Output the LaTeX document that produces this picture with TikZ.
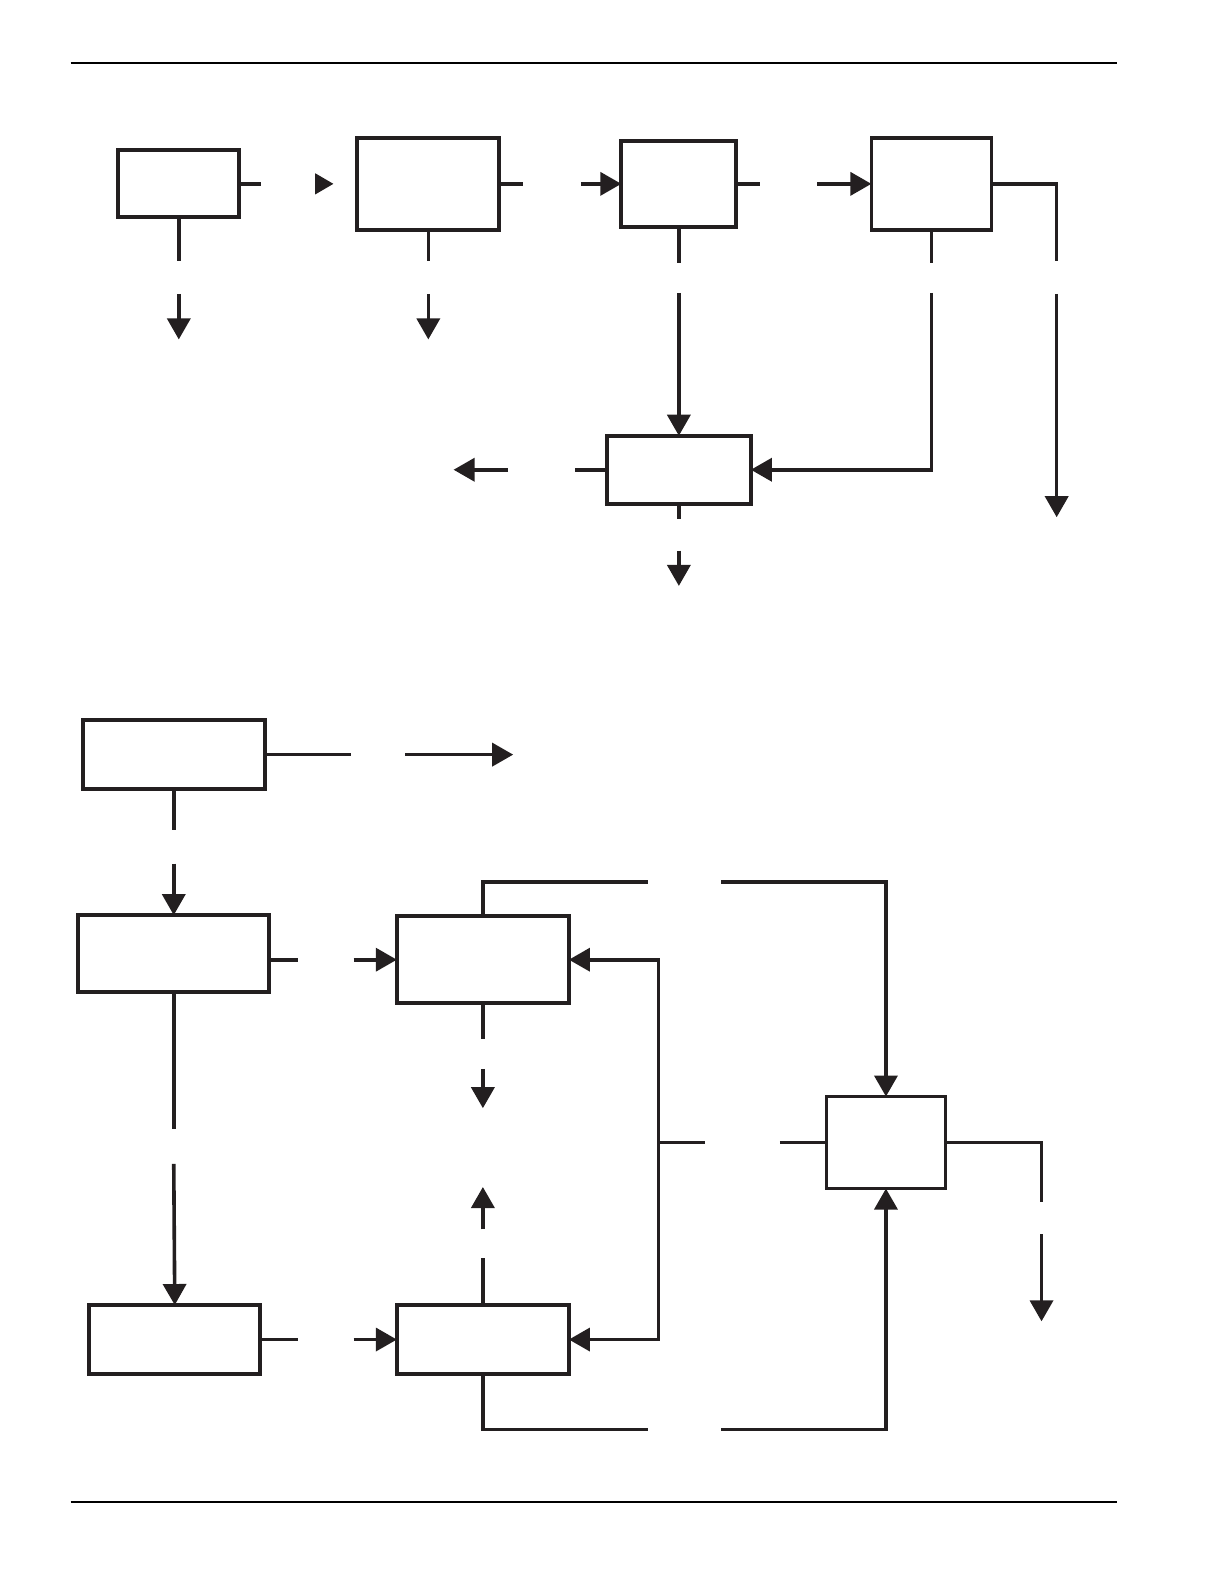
\documentclass[tikz,border=0pt]{standalone}
\usetikzlibrary{arrows.meta,calc}
\definecolor{ink}{RGB}{35,31,32}
\begin{document}
\begin{tikzpicture}[x=1.0099pt,y=-1.0099pt,
  box/.style={draw=ink,line width=3.8pt,rectangle,outer sep=0pt,inner sep=0pt,fill=white},
  conn/.style={draw=ink,line width=3.6pt},
  arr/.style={conn,-{Triangle[length=21pt,width=23pt]}},
  rule/.style={draw=black,line width=2.2pt}]
\useasboundingbox (0,0) rectangle (1212,1568);
% rules
\coordinate (r1a) at (70,62); \coordinate (r1b) at (1106,62);
\coordinate (r2a) at (70,1487); \coordinate (r2b) at (1106,1487);
\draw[rule] (r1a) -- (r1b);
\draw[rule] (r2a) -- (r2b);
% ---------- upper diagram ----------
\node[box,minimum width=121pt,minimum height=67pt] (A1) at (177,182) {};
\node[box,minimum width=142pt,minimum height=92pt] (A2) at (424,182) {};
\node[box,minimum width=115pt,minimum height=86pt] (A3) at (672,182) {};
\node[box,minimum width=120pt,minimum height=92pt] (A4) at (922,182) {};
\node[box,minimum width=144pt,minimum height=68pt] (B) at (672,465) {};
% A1
\coordinate (a1r) at (258,182);
\coordinate (t12s) at (312,182); \coordinate (t12e) at (330,182);
\draw[conn] (A1.east) -- (a1r);
\fill[ink] ($(t12s)+(0,-10.5)$) -- (t12e) -- ($(t12s)+(0,10.5)$) -- cycle;
\coordinate (a1b) at (177,258); \coordinate (a1d) at (177,291); \coordinate (a1t) at (177,336);
\draw[conn] (A1.south) -- (a1b);
\draw[arr] (a1d) -- (a1t);
% A2
\coordinate (a2r) at (518,182); \coordinate (a23) at (575,182);
\draw[conn] (A2.east) -- (a2r);
\draw[arr] (a23) -- (A3.west);
\coordinate (a2b) at (424,258); \coordinate (a2d) at (424,291); \coordinate (a2t) at (424,336);
\draw[conn] (A2.south) -- (a2b);
\draw[arr] (a2d) -- (a2t);
% A3
\coordinate (a3r) at (752,182); \coordinate (a34) at (809,182);
\draw[conn] (A3.east) -- (a3r);
\draw[arr] (a34) -- (A4.west);
\coordinate (a3b) at (672,260); \coordinate (a3d) at (672,290);
\draw[conn] (A3.south) -- (a3b);
\draw[arr] (a3d) -- (B.north);
% A4
\coordinate (a4c) at (1046,182); \coordinate (a4g) at (1046,258);
\coordinate (a4d) at (1046,291); \coordinate (a4t) at (1046,512);
\draw[conn] (A4.east) -- (a4c) -- (a4g);
\draw[arr] (a4d) -- (a4t);
\coordinate (a4b) at (922,260); \coordinate (a4d2) at (922,290); \coordinate (a4k) at (922,465);
\draw[conn] (A4.south) -- (a4b);
\draw[arr] (a4d2) -- (a4k) -- (B.east);
% B
\coordinate (bl) at (569,465); \coordinate (bla) at (503,465); \coordinate (blt) at (449,465);
\draw[conn] (B.west) -- (bl);
\draw[arr] (bla) -- (blt);
\coordinate (bb) at (672,514); \coordinate (bbd) at (672,545); \coordinate (bbt) at (672,580);
\draw[conn] (B.south) -- (bb);
\draw[arr] (bbd) -- (bbt);
% ---------- lower diagram ----------
\node[box,minimum width=182pt,minimum height=69pt] (C1) at (172,747) {};
\node[box,minimum width=191pt,minimum height=77pt] (C2) at (172,944) {};
\node[box,minimum width=172pt,minimum height=87pt] (C3) at (478,950) {};
\node[box,minimum width=119pt,minimum height=92pt] (D) at (877,1131) {};
\node[box,minimum width=171pt,minimum height=69pt] (C5) at (173,1326) {};
\node[box,minimum width=172pt,minimum height=69pt] (C4) at (478,1326) {};
% C1
\coordinate (c1r) at (347,747); \coordinate (c1a) at (401,747); \coordinate (c1t) at (508,747);
\draw[conn] (C1.east) -- (c1r);
\draw[arr] (c1a) -- (c1t);
\coordinate (c1b) at (172,822); \coordinate (c1d) at (172,855);
\draw[conn] (C1.south) -- (c1b);
\draw[arr] (c1d) -- (C2.north);
% C2
\coordinate (c2r) at (295,950); \coordinate (c2a) at (350,950);
\draw[conn] (c2r -| C2.east) -- (c2r);
\draw[arr] (c2a) -- (C3.west);
\coordinate (c2b) at (172,1118); \coordinate (c2d) at (172,1152);
\draw[conn] (C2.south) -- (c2b);
\draw[arr] (c2d) -- (C5.north);
% C5
\coordinate (c5r) at (295,1326); \coordinate (c5a) at (350,1326);
\draw[conn] (C5.east) -- (c5r);
\draw[arr] (c5a) -- (C4.west);
% C3
\coordinate (c3k) at (478,873); \coordinate (c3tr) at (641,873);
\coordinate (c3tl) at (714,873); \coordinate (c3m) at (877,873);
\draw[conn] (C3.north) -- (c3k) -- (c3tr);
\draw[arr] (c3tl) -- (c3m) -- (D.north);
\coordinate (c3b) at (478,1028); \coordinate (c3d) at (478,1058); \coordinate (c3t) at (478,1097);
\draw[conn] (C3.south) -- (c3b);
\draw[arr] (c3d) -- (c3t);
% C4
\coordinate (c4g) at (478,1245); \coordinate (c4d) at (478,1217); \coordinate (c4t) at (478,1175);
\draw[conn] (C4.north) -- (c4g);
\draw[arr] (c4d) -- (c4t);
\coordinate (c4k) at (478,1415); \coordinate (c4br) at (641,1415);
\coordinate (c4bb) at (714,1415); \coordinate (c4m) at (877,1415);
\draw[conn] (C4.south) -- (c4k) -- (c4br);
\draw[arr] (c4bb) -- (c4m) -- (D.south);
% feedback bracket
\coordinate (fbj) at (652,1131); \coordinate (fbr) at (698,1131);
\draw[arr] (fbj) |- (C3.east);
\draw[arr] (fbj) |- (C4.east);
\draw[conn] (fbj) -- (fbr);
% D
\coordinate (dl) at (772,1131);
\draw[conn] (dl) -- (D.west);
\coordinate (dc) at (1031,1131); \coordinate (drg) at (1031,1190);
\coordinate (drd) at (1031,1222); \coordinate (drt) at (1031,1308);
\draw[conn] (D.east) -- (dc) -- (drg);
\draw[arr] (drd) -- (drt);
\end{tikzpicture}
\end{document}
